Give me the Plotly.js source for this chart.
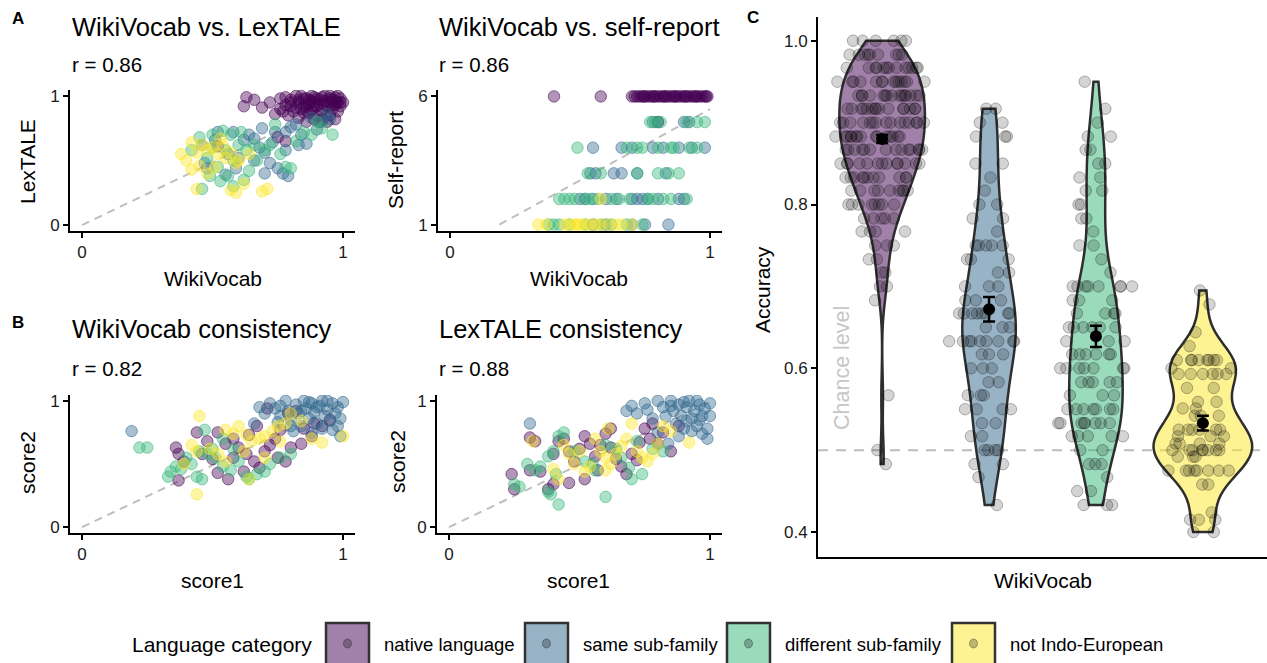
<!DOCTYPE html>
<html><head><meta charset="utf-8">
<script src="https://cdn.plot.ly/plotly-3.0.1.min.js"></script>
<style>html,body{margin:0;padding:0;background:#fff;} #chart{width:1267px;height:663px;}</style>
</head><body><div id="chart"></div>
<script>
// ---------------- DATA ----------------
const groups = ['native language', 'same sub-family', 'different sub-family', 'not Indo-European'];
const groupRGB = [[68,1,84],[49,104,142],[53,183,121],[253,231,37]];

const panelTitles = ['WikiVocab vs. LexTALE', 'WikiVocab vs. self-report', 'WikiVocab consistency', 'LexTALE consistency'];
const panelR = ['r = 0.86', 'r = 0.86', 'r = 0.82', 'r = 0.88'];
const panelXTitles = ['WikiVocab', 'WikiVocab', 'score1', 'score1'];
const panelYTitles = ['LexTALE', 'Self-report', 'score2', 'score2'];
const unitTicks = [0, 1];
const selfTicks = [1, 6];
const accTicks = [0.4, 0.6, 0.8, 1.0];
const accTickText = ['0.4', '0.6', '0.8', '1.0'];
const violinTitleX = 'WikiVocab';
const violinTitleY = 'Accuracy';
const chanceLabel = 'Chance level';
const chanceLevel = 0.5;
const legendTitle = 'Language category';

// Panel A1: WikiVocab (x) vs LexTALE (y)
const a1Native = [[0.63,0.99],[0.66,0.97],[0.62,0.92],[0.69,0.91],[0.72,0.95],[0.76,0.98],[0.78,0.93],[0.80,0.97],[0.82,1.0],[0.83,0.95],[0.84,0.90],[0.85,0.98],[0.86,0.93],[0.87,0.87],[0.88,1.0],[0.88,0.96],[0.89,0.91],[0.90,0.98],[0.90,0.85],[0.91,0.94],[0.92,0.99],[0.92,0.89],[0.93,0.96],[0.94,0.92],[0.94,0.86],[0.95,1.0],[0.95,0.95],[0.96,0.90],[0.96,0.97],[0.97,0.93],[0.97,0.99],[0.98,0.88],[0.98,0.95],[0.99,0.92],[0.99,0.98],[1.0,0.95],[0.81,0.88],[0.79,0.85],[0.83,0.83],[0.86,0.80],[0.89,0.82],[0.92,0.82],[0.76,0.90],[0.74,0.86],[0.85,0.87],[0.90,0.92],[0.93,1.0],[0.87,0.97],[0.80,0.92],[0.77,0.88],[0.84,1.0],[0.91,0.80],[0.95,0.85],[0.52,0.61],[0.75,0.68],[0.78,0.65],[0.86,0.98],[0.89,0.95],[0.96,0.93],[0.98,1.0],[0.82,0.91],[0.88,0.89],[0.83,0.97],[0.85,0.92],[0.87,0.94],[0.89,0.99],[0.91,0.97],[0.93,0.93],[0.95,0.98],[0.97,0.96],[0.99,0.95],[0.80,0.95],[0.78,0.99],[0.86,0.89],[0.94,0.80],[0.97,0.82]];
const a1Same = [[0.46,0.62],[0.52,0.72],[0.51,0.66],[0.47,0.48],[0.48,0.44],[0.58,0.72],[0.62,0.66],[0.64,0.70],[0.66,0.67],[0.68,0.60],[0.70,0.56],[0.72,0.48],[0.75,0.44],[0.77,0.40],[0.79,0.38],[0.70,0.40],[0.69,0.75],[0.74,0.72],[0.78,0.72],[0.80,0.76],[0.84,0.70],[0.86,0.63],[0.90,0.74],[0.92,0.80],[0.95,0.82],[0.88,0.83],[0.56,0.55],[0.60,0.52],[0.66,0.50],[0.55,0.39],[0.78,0.58],[0.83,0.62],[0.73,0.64],[0.82,0.78],[0.94,0.86],[0.59,0.44]];
const a1Diff = [[0.42,0.58],[0.45,0.68],[0.50,0.70],[0.54,0.73],[0.57,0.70],[0.60,0.62],[0.55,0.58],[0.48,0.52],[0.49,0.38],[0.46,0.28],[0.53,0.34],[0.56,0.38],[0.58,0.30],[0.62,0.35],[0.64,0.42],[0.67,0.50],[0.70,0.58],[0.72,0.62],[0.76,0.55],[0.78,0.45],[0.80,0.44],[0.82,0.65],[0.85,0.72],[0.88,0.70],[0.92,0.75],[0.96,0.70],[0.90,0.80],[0.63,0.58],[0.58,0.50],[0.52,0.45],[0.66,0.62],[0.74,0.78],[0.61,0.72],[0.50,0.60]];
const a1NotIE = [[0.38,0.55],[0.40,0.50],[0.42,0.64],[0.44,0.56],[0.46,0.62],[0.48,0.58],[0.50,0.60],[0.52,0.55],[0.54,0.62],[0.55,0.52],[0.57,0.56],[0.59,0.48],[0.48,0.40],[0.42,0.43],[0.44,0.28],[0.57,0.27],[0.59,0.25],[0.62,0.32],[0.69,0.26],[0.71,0.28],[0.60,0.50],[0.64,0.55],[0.51,0.45],[0.45,0.46],[0.53,0.67]];
const a1Fit = [[0, 0], [1, 0.97]];

// Panel A2: WikiVocab (x) vs self-report (y, 1..6)
const a2Native = [[0.40,6],[0.58,6],[0.70,6],[0.71,6],[0.72,6],[0.73,6],[0.74,6],[0.745,6],[0.75,6],[0.76,6],[0.77,6],[0.78,6],[0.785,6],[0.79,6],[0.80,6],[0.81,6],[0.82,6],[0.825,6],[0.83,6],[0.84,6],[0.85,6],[0.86,6],[0.865,6],[0.87,6],[0.88,6],[0.89,6],[0.90,6],[0.905,6],[0.91,6],[0.92,6],[0.93,6],[0.94,6],[0.945,6],[0.95,6],[0.96,6],[0.97,6],[0.98,6],[0.985,6],[0.99,6],[0.80,5]];
const a2Same = [[0.78,5],[0.80,5],[0.90,5],[0.92,5],[0.55,4],[0.66,4],[0.70,4],[0.78,4],[0.82,4],[0.88,4],[0.93,4],[0.98,4],[0.54,3],[0.56,3],[0.63,3],[0.66,3],[0.72,3],[0.83,3],[0.50,2],[0.52,2],[0.55,2],[0.60,2],[0.64,2],[0.70,2],[0.72,2],[0.74,2],[0.76,2],[0.80,2],[0.88,2],[0.90,2],[0.55,1],[0.60,1],[0.70,1],[0.75,1],[0.84,1]];
const a2Diff = [[0.77,5],[0.79,5],[0.81,5],[0.91,5],[0.95,5],[0.98,5],[0.49,4],[0.68,4],[0.72,4],[0.74,4],[0.80,4],[0.85,4],[0.86,4],[0.92,4],[0.95,4],[0.53,3],[0.58,3],[0.72,3],[0.80,3],[0.84,3],[0.88,3],[0.42,2],[0.44,2],[0.46,2],[0.48,2],[0.52,2],[0.54,2],[0.57,2],[0.62,2],[0.65,2],[0.69,2],[0.76,2],[0.78,2],[0.82,2],[0.85,2],[0.91,2],[0.38,1],[0.40,1],[0.42,1],[0.46,1],[0.52,1],[0.58,1],[0.62,1],[0.68,1],[0.74,1]];
const a2NotIE = [[0.58,2],[0.34,1],[0.37,1],[0.44,1],[0.46,1],[0.48,1],[0.49,1],[0.50,1],[0.52,1],[0.54,1],[0.56,1],[0.58,1],[0.61,1],[0.64,1],[0.66,1],[0.70,1]];
const a2Fit = [[0.19, 1], [1, 5.5]];

// Panel B1: WikiVocab consistency
const b1Native = [[0.36,0.63],[0.37,0.58],[0.39,0.52],[0.37,0.37],[0.44,0.75],[0.48,0.68],[0.52,0.75],[0.55,0.66],[0.58,0.70],[0.60,0.63],[0.63,0.58],[0.66,0.52],[0.68,0.47],[0.62,0.44],[0.56,0.38],[0.52,0.43],[0.70,0.60],[0.72,0.65],[0.74,0.70],[0.76,0.77],[0.79,0.90],[0.82,0.92],[0.85,0.78],[0.88,0.72],[0.84,0.66],[0.80,0.63],[0.89,0.82],[0.92,0.80],[0.95,0.85],[0.71,0.94],[0.64,0.73],[0.46,0.58],[0.50,0.54],[0.58,0.55],[0.75,0.55],[0.78,0.52],[0.67,0.80]];
const b1Same = [[0.19,0.76],[0.68,0.95],[0.70,0.90],[0.72,0.98],[0.74,0.94],[0.76,0.88],[0.78,1.0],[0.79,0.92],[0.80,0.85],[0.82,0.97],[0.83,0.90],[0.84,0.80],[0.85,1.0],[0.86,0.94],[0.87,0.86],[0.88,0.98],[0.89,0.91],[0.90,0.82],[0.91,0.96],[0.92,1.0],[0.93,0.88],[0.94,0.93],[0.95,0.84],[0.96,0.98],[0.97,0.90],[0.98,0.95],[0.99,0.86],[1.0,0.99],[0.96,0.77],[0.99,0.72],[0.92,0.78],[0.88,0.75],[0.80,0.80],[0.75,0.83],[0.66,0.82],[0.87,0.99],[0.94,1.0],[0.90,0.95],[0.98,0.80],[0.76,0.96],[0.84,0.92],[0.81,0.76]];
const b1Diff = [[0.22,0.63],[0.25,0.63],[0.33,0.40],[0.34,0.44],[0.36,0.48],[0.38,0.46],[0.40,0.55],[0.42,0.50],[0.45,0.60],[0.48,0.58],[0.51,0.55],[0.54,0.48],[0.57,0.45],[0.60,0.52],[0.63,0.40],[0.64,0.38],[0.67,0.42],[0.70,0.44],[0.72,0.50],[0.76,0.55],[0.44,0.40],[0.46,0.38],[0.50,0.62],[0.54,0.70],[0.47,0.77],[0.58,0.62],[0.80,0.58]];
const b1NotIE = [[0.45,0.88],[0.42,0.65],[0.44,0.60],[0.49,0.62],[0.52,0.58],[0.55,0.77],[0.58,0.74],[0.60,0.80],[0.63,0.73],[0.65,0.68],[0.68,0.70],[0.70,0.72],[0.73,0.76],[0.75,0.80],[0.78,0.82],[0.80,0.90],[0.84,0.84],[0.88,0.70],[0.92,0.67],[1.0,0.72],[0.62,0.60],[0.70,0.55],[0.39,0.50],[0.64,0.38],[0.44,0.26],[0.55,0.52],[0.76,0.68]];
const b1Fit = [[0, 0], [1, 0.98]];

// Panel B2: LexTALE consistency
const b2Native = [[0.24,0.42],[0.25,0.30],[0.31,0.71],[0.31,0.45],[0.33,0.68],[0.35,0.44],[0.40,0.58],[0.42,0.68],[0.44,0.70],[0.46,0.60],[0.48,0.52],[0.50,0.62],[0.52,0.72],[0.54,0.66],[0.56,0.56],[0.58,0.65],[0.60,0.74],[0.62,0.63],[0.64,0.54],[0.66,0.48],[0.68,0.42],[0.70,0.58],[0.73,0.67],[0.75,0.78],[0.78,0.82],[0.82,0.75],[0.85,0.60],[0.88,0.80],[0.77,0.70],[0.38,0.30],[0.46,0.35],[0.40,0.34],[0.52,0.38],[0.57,0.45],[0.72,0.53],[0.62,0.78],[0.80,0.66]];
const b2Same = [[0.31,0.82],[0.68,0.92],[0.70,0.96],[0.72,0.90],[0.75,0.98],[0.76,0.93],[0.78,0.86],[0.80,1.0],[0.82,0.95],[0.83,0.88],[0.85,1.0],[0.86,0.92],[0.87,0.82],[0.88,0.97],[0.89,0.88],[0.90,0.78],[0.91,0.95],[0.92,1.0],[0.93,0.86],[0.94,0.92],[0.95,0.80],[0.96,0.97],[0.97,0.88],[0.98,0.94],[0.99,0.78],[1.0,0.98],[0.99,0.70],[0.97,0.74],[0.93,0.76],[0.88,0.72],[0.84,0.66],[0.80,0.75],[0.85,0.96],[0.90,0.99],[0.95,1.0],[0.96,0.85],[0.91,0.84],[1.0,0.88]];
const b2Diff = [[0.25,0.34],[0.27,0.32],[0.30,0.50],[0.33,0.45],[0.35,0.48],[0.38,0.56],[0.40,0.60],[0.42,0.72],[0.44,0.75],[0.38,0.28],[0.39,0.26],[0.41,0.42],[0.42,0.18],[0.48,0.60],[0.52,0.52],[0.56,0.45],[0.60,0.65],[0.64,0.62],[0.66,0.55],[0.69,0.47],[0.70,0.38],[0.74,0.42],[0.78,0.62],[0.82,0.60],[0.60,0.24],[0.55,0.50],[0.72,0.68]];
const b2NotIE = [[0.32,0.68],[0.44,0.65],[0.46,0.58],[0.48,0.50],[0.50,0.60],[0.52,0.44],[0.54,0.48],[0.56,0.70],[0.58,0.60],[0.60,0.55],[0.62,0.50],[0.64,0.58],[0.66,0.64],[0.68,0.70],[0.70,0.82],[0.72,0.60],[0.74,0.55],[0.76,0.52],[0.78,0.58],[0.80,0.66],[0.82,0.80],[0.85,0.76],[0.92,0.67],[0.61,0.78],[0.40,0.46],[0.42,0.38],[0.60,0.45]];
const b2Fit = [[0, 0], [1, 0.99]];

// Panel C: accuracy per participant, as [accuracy, number of participants]
const accNative = [[1.000,6],[0.983,9],[0.967,13],[0.950,14],[0.933,15],[0.917,15],[0.900,15],[0.883,15],[0.867,14],[0.850,13],[0.833,11],[0.817,9],[0.800,8],[0.783,5],[0.767,4],[0.750,3],[0.733,2],[0.717,2],[0.700,2],[0.683,1],[0.567,1],[0.500,1],[0.483,1]];
const accSame = [[0.917,2],[0.900,2],[0.883,3],[0.850,2],[0.833,1],[0.817,1],[0.800,2],[0.783,2],[0.767,1],[0.750,5],[0.733,3],[0.717,2],[0.700,3],[0.683,3],[0.667,8],[0.650,3],[0.633,9],[0.617,3],[0.600,3],[0.583,2],[0.567,3],[0.550,4],[0.533,2],[0.517,2],[0.500,4],[0.483,2],[0.467,1],[0.433,1]];
const accDiff = [[0.950,1],[0.917,1],[0.900,1],[0.883,2],[0.867,2],[0.850,2],[0.833,2],[0.817,2],[0.800,2],[0.783,2],[0.767,1],[0.750,2],[0.733,1],[0.717,1],[0.700,8],[0.683,3],[0.667,4],[0.650,6],[0.633,3],[0.617,6],[0.600,7],[0.583,5],[0.567,3],[0.550,7],[0.533,8],[0.517,5],[0.500,2],[0.483,3],[0.467,1],[0.450,2],[0.433,3]];
const accNotIE = [[0.695,1],[0.678,1],[0.644,1],[0.627,1],[0.610,8],[0.600,2],[0.593,6],[0.576,2],[0.559,2],[0.551,2],[0.542,3],[0.525,6],[0.517,3],[0.508,4],[0.500,8],[0.492,3],[0.475,8],[0.458,2],[0.424,1],[0.415,3],[0.400,2]];
const accMeans = [0.880, 0.672, 0.639, 0.533];
const accSE = [0.005, 0.015, 0.013, 0.009];

// ---------------- STYLE / LAYOUT ----------------
const W = 1267, H = 663;
const FONT = 'Liberation Sans, Arial, Helvetica, sans-serif';
const px = v => v / W, py = v => 1 - v / H;
const rgba = (c, a) => `rgba(${c[0]},${c[1]},${c[2]},${a})`;

const scatterPanels = [
  {sets: [a1Native, a1Same, a1Diff, a1NotIE], fit: a1Fit, ticks: unitTicks, yr: [-0.046, 1.046], xd: [70, 355], yd: [90, 231]},
  {sets: [a2Native, a2Same, a2Diff, a2NotIE], fit: a2Fit, ticks: selfTicks, yr: [0.75, 6.25], xd: [438, 722], yd: [90, 231]},
  {sets: [b1Native, b1Same, b1Diff, b1NotIE], fit: b1Fit, ticks: unitTicks, yr: [-0.046, 1.046], xd: [70, 355], yd: [395, 533]},
  {sets: [b2Native, b2Same, b2Diff, b2NotIE], fit: b2Fit, ticks: unitTicks, yr: [-0.046, 1.046], xd: [437, 722], yd: [395, 533]}
];
const textPos = [
  {tx: 70, ty: 27, ry: 65, xtx: 213, xty: 278, ytx: 27, yty: 162},
  {tx: 437, ty: 27, ry: 65, xtx: 579, xty: 278, ytx: 395, yty: 160},
  {tx: 70, ty: 329, ry: 368, xtx: 212, xty: 580, ytx: 27, yty: 463},
  {tx: 437, ty: 329, ry: 368, xtx: 578, xty: 580, ytx: 397, yty: 462}
];

const traces = [];
const layout = {
  width: W, height: H, margin: {l: 0, r: 0, t: 0, b: 0},
  paper_bgcolor: '#fff', plot_bgcolor: 'rgba(0,0,0,0)',
  showlegend: false, violinmode: 'overlay',
  font: {family: FONT, color: '#000'},
  annotations: [], shapes: []
};

function axisBase(extra) {
  return Object.assign({
    showline: true, linecolor: '#000', linewidth: 2, mirror: false,
    showgrid: false, zeroline: false, ticks: 'outside', ticklen: 5, tickwidth: 2, tickcolor: '#000',
    tickfont: {family: FONT, size: 17, color: '#1a1a1a'}, fixedrange: true
  }, extra);
}

function ann(text, x, y, size, opts) {
  layout.annotations.push(Object.assign({
    text: text, x: px(x), y: py(y), xref: 'paper', yref: 'paper', showarrow: false,
    xanchor: 'center', yanchor: 'middle', font: {family: FONT, size: size, color: '#000'}
  }, opts || {}));
}

scatterPanels.forEach((p, i) => {
  const n = i + 1;
  const xa = 'xaxis' + (n === 1 ? '' : n), ya = 'yaxis' + (n === 1 ? '' : n);
  const xr = 'x' + (n === 1 ? '' : n), yr = 'y' + (n === 1 ? '' : n);
  layout[xa] = axisBase({domain: [px(p.xd[0]), px(p.xd[1])], range: [-0.046, 1.046], tickvals: unitTicks, ticktext: unitTicks.map(String), anchor: yr});
  layout[ya] = axisBase({domain: [py(p.yd[1]), py(p.yd[0])], range: p.yr, tickvals: p.ticks, ticktext: p.ticks.map(String), anchor: xr});
  traces.push({type: 'scatter', mode: 'lines', xaxis: xr, yaxis: yr,
    x: p.fit.map(d => d[0]), y: p.fit.map(d => d[1]),
    line: {color: '#bfbfbf', width: 2, dash: '8px,6px'}, hoverinfo: 'skip'});
  p.sets.forEach((s, g) => {
    traces.push({type: 'scatter', mode: 'markers', xaxis: xr, yaxis: yr, name: groups[g],
      x: s.map(d => d[0]), y: s.map(d => d[1]),
      marker: {size: 11.5, color: rgba(groupRGB[g], 0.42), line: {color: rgba(groupRGB[g], 0.55), width: 1}}});
  });
  const t = textPos[i];
  ann(panelTitles[i], t.tx, t.ty, 25.5, {xanchor: 'left'});
  ann(panelR[i], t.tx, t.ry, 20.5, {xanchor: 'left'});
  ann(panelXTitles[i], t.xtx, t.xty, 21);
  ann(panelYTitles[i], t.ytx, t.yty, 21, {textangle: -90});
});

// Panel C
layout.xaxis5 = axisBase({domain: [px(818), 1], range: [0.4, 4.6], showticklabels: false, ticks: '', anchor: 'y5'});
layout.yaxis5 = axisBase({domain: [py(557), py(17)], range: [0.3695, 1.029], tickvals: accTicks, ticktext: accTickText, anchor: 'x5'});

const accSets = [accNative, accSame, accDiff, accNotIE];
const violinWidths = [0.80, 0.50, 0.50, 0.92];
const pointWidths = [0.88, 0.80, 0.82, 0.86];
function expand(tbl) { const out = []; tbl.forEach(([v, c]) => { for (let k = 0; k < c; k++) out.push(v); }); return out; }
function nrd0(a) {
  const s = a.slice().sort((p, q) => p - q), n = s.length;
  const mean = s.reduce((p, q) => p + q, 0) / n;
  const sd = Math.sqrt(s.reduce((p, q) => p + (q - mean) * (q - mean), 0) / (n - 1));
  const qt = f => { const h = (n - 1) * f, lo = Math.floor(h); return s[lo] + (h - lo) * ((s[Math.min(lo + 1, n - 1)]) - s[lo]); };
  const iqr = qt(0.75) - qt(0.25);
  return 0.9 * Math.min(sd, iqr / 1.34) * Math.pow(n, -0.2);
}
accSets.forEach((tbl, g) => {
  const ys = expand(tbl);
  traces.push({type: 'violin', xaxis: 'x5', yaxis: 'y5', x0: g + 1, y: ys, name: groups[g],
    width: violinWidths[g], spanmode: 'hard', bandwidth: nrd0(ys), points: false,
    fillcolor: rgba(groupRGB[g], 0.5), line: {color: '#2e2e2e', width: 2.5},
    box: {visible: false}, meanline: {visible: false}, hoverinfo: 'skip'});
});
accSets.forEach((tbl, g) => {
  const ys = expand(tbl);
  traces.push({type: 'violin', xaxis: 'x5', yaxis: 'y5', x0: g + 1, y: ys, name: groups[g] + ' pts',
    width: pointWidths[g], spanmode: 'hard', bandwidth: nrd0(ys), points: 'all', jitter: 1, pointpos: 0,
    fillcolor: 'rgba(0,0,0,0)', line: {color: 'rgba(0,0,0,0)', width: 0},
    marker: {size: 11.5, color: 'rgba(0,0,0,0.17)', line: {color: 'rgba(0,0,0,0.28)', width: 1}},
    box: {visible: false}, meanline: {visible: false}, hoverinfo: 'skip'});
});
traces.push({type: 'scatter', mode: 'markers', xaxis: 'x5', yaxis: 'y5',
  x: [1, 2, 3, 4], y: accMeans,
  error_y: {type: 'data', array: accSE, visible: true, color: '#000', thickness: 2.5, width: 6},
  marker: {size: 12, color: '#000'}});

layout.shapes.push({type: 'line', xref: 'x5', yref: 'y5', x0: 0.4, x1: 4.6, y0: chanceLevel, y1: chanceLevel,
  line: {color: '#bdbdbd', width: 2, dash: '10px,8px'}, layer: 'below'});
ann(chanceLabel, 842, 368, 21.5, {textangle: -90, font: {family: FONT, size: 21.5, color: '#c6c6c6'}});
ann(violinTitleY, 762, 290, 21, {textangle: -90});
ann(violinTitleX, 1043, 580, 21);

// Panel letters
ann('<b>A</b>', 18, 18, 17);
ann('<b>B</b>', 18, 322, 17);
ann('<b>C</b>', 753, 17, 17);

// Legend
ann(legendTitle, 130, 644, 21, {xanchor: 'left'});
const legBoxX = [326, 525, 727, 952];
legBoxX.forEach((bx, g) => {
  layout.shapes.push({type: 'rect', xref: 'paper', yref: 'paper', x0: px(bx), x1: px(bx + 43), y0: py(665), y1: py(623),
    fillcolor: rgba(groupRGB[g], 0.5), line: {color: '#333', width: 2.5}});
  layout.shapes.push({type: 'circle', xref: 'paper', yref: 'paper', x0: px(bx + 17.5), x1: px(bx + 25.5), y0: py(648), y1: py(639),
    fillcolor: 'rgba(0,0,0,0.25)', line: {color: 'rgba(0,0,0,0.3)', width: 1}});
  ann(groups[g], bx + 56, 644, 18.5, {xanchor: 'left'});
});

Plotly.newPlot('chart', traces, layout, {displayModeBar: false, staticPlot: true});
</script></body></html>
